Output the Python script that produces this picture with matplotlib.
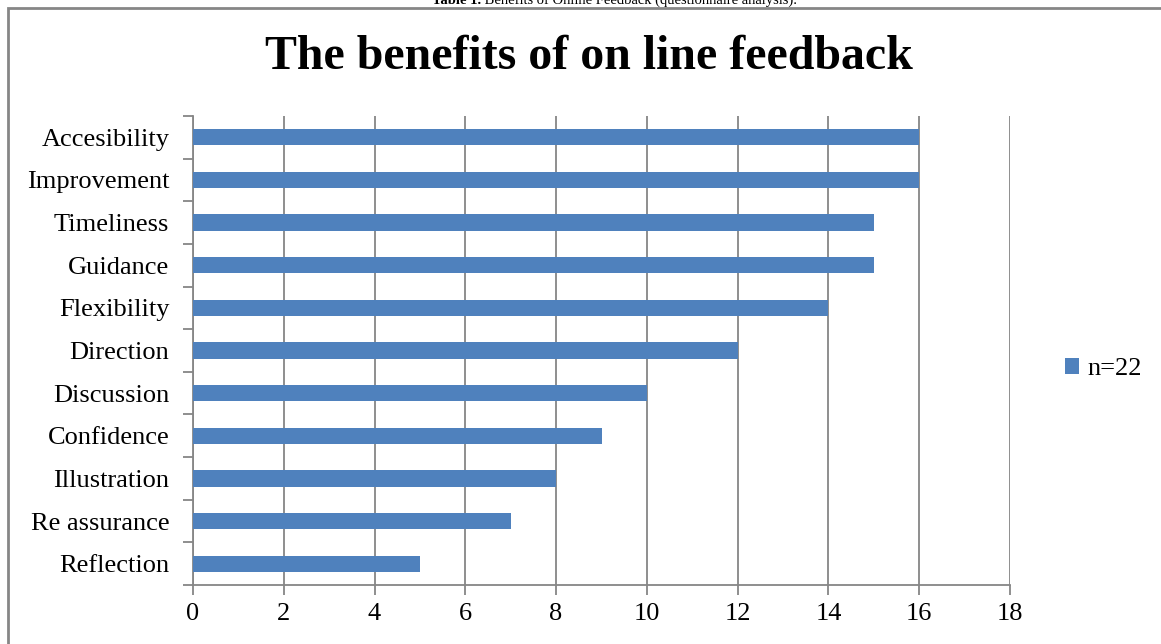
import matplotlib.pyplot as plt
from matplotlib.patches import Rectangle

# data:
categories = ['Accesibility', 'Improvement', 'Timeliness', 'Guidance', 'Flexibility',
              'Direction', 'Discussion', 'Confidence', 'Illustration', 'Re assurance',
              'Reflection']
values = [16, 16, 15, 15, 14, 12, 10, 9, 8, 7, 5]
series_label = 'n=22'
title = 'The benefits of on line feedback'
caption_bold = 'Table 1.'
caption_rest = ' Benefits of Online Feedback (questionnaire analysis).'

plt.rcParams['font.family'] = ['Liberation Serif', 'DejaVu Serif']
grey = '#868686'
blue = '#4F81BD'

fig = plt.figure(figsize=(11.61, 6.44), dpi=100)

# outer chart border (left and top visible)
fig.patches.append(Rectangle((8 / 1161, -0.1), 1.2, 1.1 - 8 / 644,
                             transform=fig.transFigure, fill=False,
                             edgecolor=grey, linewidth=2))

# caption cut off at the top of the page
t1 = fig.text(432 / 1161, 1.0, caption_bold, ha='left', va='center',
              fontsize=10.5, fontweight='bold')
fig.canvas.draw()
bb = t1.get_window_extent().transformed(fig.transFigure.inverted())
fig.text(bb.x1, 1.0, caption_rest, ha='left', va='center', fontsize=10.5)

ax = fig.add_axes([193 / 1161, 1 - 585 / 644, (1010 - 193) / 1161, (585 - 116) / 644])

n = len(categories)
ypos = list(range(n - 1, -1, -1))
ax.barh(ypos, values, height=0.38, color=blue, label=series_label, zorder=3)

ax.set_xlim(0, 18)
ax.set_xticks(range(0, 19, 2))
ax.set_ylim(-0.5, n - 0.5)
ax.set_yticks([i - 0.5 for i in range(n + 1)])
ax.set_yticklabels([])
ax.set_yticks(ypos, minor=True)
ax.set_yticklabels(categories, minor=True)
ax.tick_params(axis='y', which='major', length=7, width=1.3, color=grey, direction='out')
ax.tick_params(axis='y', which='minor', length=0, pad=17, labelsize=19)
ax.tick_params(axis='x', length=7, width=1.3, color=grey, direction='out',
               labelsize=19, pad=6)

ax.grid(axis='x', color=grey, linewidth=1.3, zorder=0)
for side in ('top', 'right'):
    ax.spines[side].set_visible(False)
for side in ('left', 'bottom'):
    ax.spines[side].set_color(grey)
    ax.spines[side].set_linewidth(1.3)

fig.text(0.507, 1 - 57 / 644, title, ha='center', va='center',
         fontsize=34.5, fontweight='bold')

leg = ax.legend(loc='center left', bbox_to_anchor=(1.038, 0.46), frameon=False,
                fontsize=19, handlelength=0.55, handleheight=0.55, handletextpad=0.3)

fig.savefig('out.png', dpi=100)
